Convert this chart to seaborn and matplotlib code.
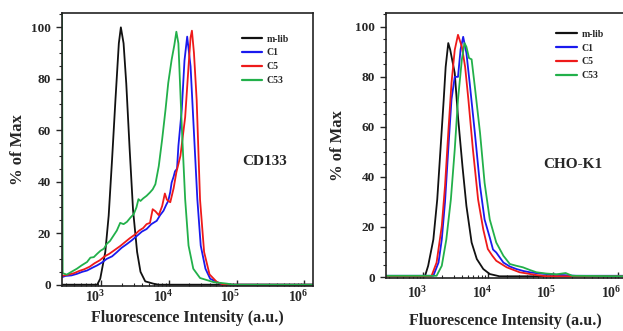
import numpy as np
import pandas as pd
import matplotlib
matplotlib.use("Agg")
import matplotlib.pyplot as plt
import matplotlib.ticker as mticker
import matplotlib.transforms as mtransforms
import seaborn as sns

# ---- data (log10 intensity, % of max) ----
samples = ["m-lib", "C1", "C5", "C53"]
colors = {"m-lib": "#111111", "C1": "#1a1aee", "C5": "#ee1a1a", "C53": "#22b04a"}

# CD133 panel
cd_mlib_x = [2.42, 2.94, 2.985, 3.06, 3.11, 3.16, 3.21, 3.26, 3.29, 3.33, 3.37, 3.42, 3.47, 3.53, 3.58, 3.65, 3.77, 3.85, 6.2]
cd_mlib_y = [0.0, 0.0, 2.3, 12.7, 26.8, 48.6, 71.8, 93.7, 99.9, 93.7, 78.0, 52.5, 29.0, 12.7, 5.0, 1.3, 0.4, 0.0, 0.0]

cd_c1_x = [2.43, 2.47, 2.56, 2.64, 2.72, 2.79, 2.87, 2.94, 3.01, 3.08, 3.16, 3.23, 3.3, 3.38, 3.45, 3.53, 3.6, 3.67,
           3.74, 3.82, 3.87, 3.92, 3.96, 3.99, 4.02, 4.04, 4.07, 4.09, 4.12, 4.14, 4.19, 4.23, 4.27, 4.32, 4.37,
           4.42, 4.47, 4.54, 4.61, 4.76, 4.85, 6.2]
cd_c1_y = [3.0, 3.4, 3.6, 4.2, 5.0, 5.5, 6.6, 7.5, 8.6, 10.0, 11.0, 12.6, 14.3, 15.8, 17.2, 19.0, 20.6, 21.6,
           23.5, 24.8, 27.0, 28.7, 31.0, 32.5, 36.0, 39.6, 42.0, 44.0, 45.0, 53.8, 68.0, 87.0, 96.3, 84.7, 59.0,
           33.2, 15.2, 6.2, 2.3, 0.4, 0.0, 0.0]

cd_c5_x = [2.43, 2.5, 2.6, 2.68, 2.75, 2.83, 2.9, 2.98, 3.05, 3.12, 3.2, 3.28, 3.35, 3.42, 3.5, 3.56, 3.62, 3.67,
           3.72, 3.76, 3.8, 3.85, 3.9, 3.94, 3.97, 4.02, 4.07, 4.11, 4.17, 4.24, 4.29, 4.32, 4.34, 4.37, 4.41,
           4.46, 4.52, 4.6, 4.71, 4.81, 6.2]
cd_c5_y = [3.5, 3.8, 4.5, 5.4, 6.0, 7.0, 8.3, 9.5, 11.0, 12.0, 13.5, 15.0, 16.5, 18.0, 19.5, 21.0, 22.0, 23.5,
           24.0, 29.3, 28.5, 27.0, 30.5, 35.4, 33.0, 32.0, 37.5, 43.6, 50.0, 65.0, 84.7, 96.0, 98.6, 90.0, 71.8,
           33.0, 12.7, 4.0, 1.0, 0.0, 0.0]

cd_c53_x = [2.42, 2.43, 2.49, 2.56, 2.64, 2.71, 2.79, 2.84, 2.89, 2.94, 2.99, 3.04, 3.08, 3.13, 3.18, 3.23, 3.28,
            3.33, 3.38, 3.43, 3.48, 3.52, 3.55, 3.58, 3.62, 3.67, 3.72, 3.76, 3.8, 3.85, 3.9, 3.95, 3.99, 4.04,
            4.08, 4.11, 4.14, 4.19, 4.24, 4.29, 4.36, 4.46, 4.66, 4.86, 4.95, 6.2]
cd_c53_y = [106.0, 4.5, 3.9, 5.0, 6.2, 7.5, 8.8, 10.5, 10.7, 12.0, 13.2, 14.0, 15.8, 17.0, 19.0, 21.0, 24.0,
            23.5, 24.4, 26.0, 27.4, 30.0, 33.2, 32.5, 33.5, 34.5, 35.8, 37.0, 39.0, 46.0, 56.4, 68.0, 78.3, 87.3,
            93.0, 98.2, 93.7, 61.5, 33.2, 15.2, 6.2, 2.6, 1.0, 0.4, 0.0, 0.0]

# CHO-K1 panel
cho_mlib_x = [2.42, 3.03, 3.08, 3.16, 3.22, 3.27, 3.32, 3.35, 3.39, 3.42, 3.46, 3.49, 3.54, 3.61, 3.67, 3.75,
              3.83, 3.93, 4.03, 4.18, 6.2]
cho_mlib_y = [0.3, 0.3, 4.5, 15.0, 31.0, 51.0, 71.0, 84.0, 93.5, 90.8, 85.5, 81.5, 64.0, 44.0, 28.4, 13.8,
              7.2, 3.2, 1.2, 0.3, 0.3]

cho_c1_x = [2.42, 3.16, 3.24, 3.29, 3.34, 3.39, 3.44, 3.49, 3.54, 3.58, 3.62, 3.67, 3.72, 3.8, 3.88, 3.95,
            4.03, 4.08, 4.13, 4.24, 4.34, 4.44, 4.55, 4.65, 4.8, 4.95, 5.15, 5.36, 6.2]
cho_c1_y = [0.5, 0.5, 5.8, 15.0, 30.0, 51.0, 71.0, 80.0, 80.0, 91.0, 96.0, 89.5, 77.6, 57.6, 36.4, 23.0,
            15.8, 11.0, 9.8, 5.8, 4.2, 3.2, 2.4, 1.9, 1.4, 1.1, 0.8, 0.5, 0.5]

cho_c5_x = [2.42, 3.13, 3.21, 3.29, 3.34, 3.39, 3.44, 3.49, 3.54, 3.6, 3.65, 3.7, 3.77, 3.85, 3.93, 4.0,
            4.07, 4.13, 4.29, 4.49, 4.75, 4.9, 6.2]
cho_c5_y = [0.3, 0.3, 5.8, 20.4, 36.4, 57.6, 77.6, 90.8, 96.8, 92.0, 84.0, 71.0, 51.0, 31.0, 19.0, 11.2,
            8.5, 6.5, 3.9, 1.9, 0.8, 0.3, 0.3]

cho_c53_x = [2.42, 3.21, 3.29, 3.36, 3.43, 3.49, 3.54, 3.6, 3.64, 3.67, 3.71, 3.75, 3.8, 3.88, 3.95, 4.03,
             4.13, 4.24, 4.34, 4.44, 4.54, 4.65, 4.75, 4.9, 5.06, 5.2, 5.3, 6.2]
cho_c53_y = [0.5, 0.5, 4.5, 15.0, 31.0, 51.0, 71.0, 87.0, 93.5, 92.0, 87.5, 87.0, 76.0, 57.6, 37.7, 23.0,
             13.8, 8.5, 5.2, 4.5, 3.9, 2.8, 1.9, 1.4, 1.1, 1.6, 0.5, 0.3]

xtick_values = [1e3, 1e4, 1e5, 1e6]
xtick_labels = [r"$\mathbf{10^{3}}$", r"$\mathbf{10^{4}}$", r"$\mathbf{10^{5}}$", r"$\mathbf{10^{6}}$"]
ytick_values = [0, 20, 40, 60, 80, 100]


def build_frame(curves):
    parts = []
    for name, (lx, py) in zip(samples, curves):
        parts.append(pd.DataFrame({"intensity": 10 ** np.array(lx), "pct": py, "sample": name}))
    return pd.concat(parts, ignore_index=True)


cd133_df = build_frame([(cd_mlib_x, cd_mlib_y), (cd_c1_x, cd_c1_y), (cd_c5_x, cd_c5_y), (cd_c53_x, cd_c53_y)])
cho_df = build_frame([(cho_mlib_x, cho_mlib_y), (cho_c1_x, cho_c1_y), (cho_c5_x, cho_c5_y), (cho_c53_x, cho_c53_y)])

sns.set_theme(style="ticks")
plt.rcParams["font.family"] = ["Liberation Serif", "DejaVu Serif"]
plt.rcParams["font.weight"] = "bold"
plt.rcParams["mathtext.fontset"] = "custom"
plt.rcParams["mathtext.bf"] = "Liberation Serif:bold"
plt.rcParams["mathtext.rm"] = "Liberation Serif:bold"

fig = plt.figure(figsize=(6.23, 3.31), dpi=100)
ax_left = fig.add_axes([0.0995, 0.136, 0.403, 0.825])
ax_right = fig.add_axes([0.6196, 0.160, 0.3820, 0.8006])

# axes, data, tag, tag position, legend anchor, xlim, ylim, ylabel x, tick pad, xlabel pad
panels = [
    (ax_left, cd133_df, "CD133", (10 ** 5.42, 48), (0.70, 0.935), (10 ** 2.42, 10 ** 6.13), (-0.5, 105.5), -0.145, 2, 4),
    (ax_right, cho_df, "CHO-K1", (10 ** 5.31, 45), (0.70, 0.952), (10 ** 2.43, 10 ** 6.1), (-0.4, 105.5), -0.17, 5, 9),
]

for ax, df, tag, tag_pos, leg_pos, xlim, ylim, ylab_x, xpad, lpad in panels:
    sns.lineplot(data=df, x="intensity", y="pct", hue="sample", palette=colors, hue_order=samples,
                 estimator=None, sort=False, linewidth=1.3, ax=ax)
    ax.set_xscale("log")
    ax.set_xlim(*xlim)
    ax.set_ylim(*ylim)
    ax.xaxis.set_major_locator(mticker.FixedLocator(xtick_values))
    ax.xaxis.set_major_formatter(mticker.FixedFormatter(xtick_labels))
    ax.xaxis.set_minor_locator(mticker.LogLocator(base=10, subs=np.arange(2, 10)))
    ax.xaxis.set_minor_formatter(mticker.NullFormatter())
    ax.set_yticks(ytick_values)
    ax.yaxis.set_minor_locator(mticker.MultipleLocator(5))
    ax.tick_params(axis="x", which="major", direction="in", length=4, width=1, labelsize=10, pad=xpad)
    ax.tick_params(axis="x", which="minor", direction="in", length=2, width=0.8)
    ax.tick_params(axis="y", which="major", direction="out", length=4, width=1, labelsize=9.5, pad=4)
    ax.tick_params(axis="y", which="minor", direction="out", length=2, width=0.8)
    for lab in ax.get_yticklabels():
        lab.set_fontweight("bold")
    # labels in the reference sit left of their tick, exponent over the tick
    shift = mtransforms.ScaledTranslation(-0.06, 0, fig.dpi_scale_trans)
    for lab in ax.get_xticklabels():
        lab.set_transform(lab.get_transform() + shift)
    for side in ["top", "right", "bottom", "left"]:
        ax.spines[side].set_visible(True)
        ax.spines[side].set_linewidth(1.2)
        ax.spines[side].set_color("#222222")
    ax.set_xlabel("Fluorescence Intensity (a.u.)", fontsize=11.5, fontweight="bold", labelpad=lpad)
    ax.set_ylabel("% of Max", fontsize=12, fontweight="bold")
    ax.yaxis.set_label_coords(ylab_x, 0.5)
    ax.text(tag_pos[0], tag_pos[1], tag, fontsize=11, fontweight="bold", ha="center", va="center")
    sns.move_legend(ax, "upper left", bbox_to_anchor=leg_pos, frameon=False, title=None,
                    fontsize=7, handlelength=2.1, handletextpad=0.5, labelspacing=0.5, borderaxespad=0)
    for line in ax.get_legend().get_lines():
        line.set_linewidth(1.6)
    for txt in ax.get_legend().get_texts():
        txt.set_fontweight("bold")

fig.savefig("out.png", dpi=100)
